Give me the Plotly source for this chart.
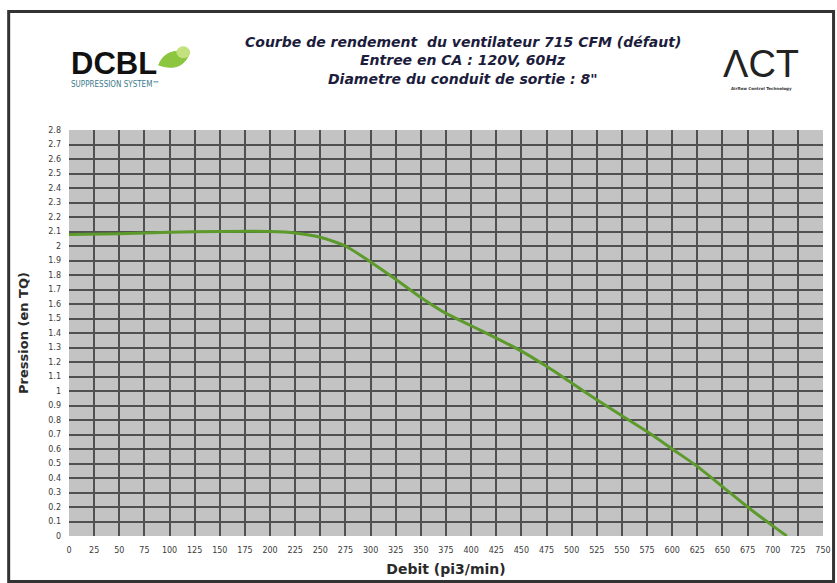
import plotly.graph_objects as go

# Fan performance curve (flow in CFM vs static pressure in inches of water)
debit = [0, 50, 100, 150, 200, 225, 250, 275, 300, 325, 350, 375, 400, 425,
         450, 475, 500, 525, 550, 575, 600, 625, 650, 675, 700, 714]
pression = [2.08, 2.085, 2.095, 2.10, 2.10, 2.09, 2.06, 2.00, 1.89, 1.77,
            1.645, 1.535, 1.45, 1.365, 1.275, 1.17, 1.055, 0.94, 0.83, 0.72,
            0.60, 0.48, 0.34, 0.20, 0.07, 0.0]

x_ticks = list(range(0, 751, 25))
y_ticks = [round(i * 0.1, 1) for i in range(0, 29)]
y_tick_text = [("%g" % v) for v in y_ticks]
ref_line = 2.0

title_lines = [
    "Courbe de rendement  du ventilateur 715 CFM (défaut)",
    "Entree en CA : 120V, 60Hz",
    "Diametre du conduit de sortie : 8\"",
]

fig = go.Figure()

fig.add_trace(go.Scatter(
    x=debit, y=pression, mode="lines",
    line=dict(color="#5b9a2b", width=3, shape="spline", smoothing=0.6),
    hoverinfo="x+y", showlegend=False,
))

grid_col = "#505050"
tick_font = dict(family="DejaVu Sans", size=8, color="#3a3a3a")
fig.update_xaxes(
    range=[0, 750], tickvals=x_ticks, ticktext=[str(v) for v in x_ticks],
    showgrid=True, gridcolor=grid_col, gridwidth=1.5, zeroline=False, automargin=False,
    showline=False, ticks="", tickfont=tick_font, ticklabelstandoff=8,
    title=dict(text="<b>Debit (pi3/min)</b>",
               font=dict(family="DejaVu Sans", size=14, color="#2a2a2a"), standoff=10),
)
fig.update_yaxes(
    range=[0, 2.8], tickvals=y_ticks, ticktext=y_tick_text,
    showgrid=True, gridcolor=grid_col, gridwidth=1.5, zeroline=False, automargin=False,
    showline=False, ticks="", tickfont=tick_font, ticklabelstandoff=7,
    title=dict(text="<b>Pression (en TQ)</b>",
               font=dict(family="DejaVu Sans", size=13, color="#2a2a2a"), standoff=16),
)

shapes = [
    # outer frame
    dict(type="rect", xref="paper", yref="paper", x0=-0.080, x1=1.014, y0=-0.112, y1=1.292,
         line=dict(color="#333", width=3), fillcolor="rgba(0,0,0,0)", layer="below"),
    # lavender reference line
    dict(type="line", xref="paper", yref="y", x0=0, x1=1, y0=ref_line, y1=ref_line,
         line=dict(color="#a898c8", width=2), layer="below"),
]

annotations = []
for i, line in enumerate(title_lines):
    annotations.append(dict(
        text="<b><i>%s</i></b>" % line, xref="paper", yref="paper",
        x=0.522, y=1.217 - i * 0.0455, xanchor="center", yanchor="middle", showarrow=False,
        font=dict(family="DejaVu Sans", size=14, color="#1c1c3c"),
    ))

# left logo text
annotations += [
    dict(text="<b>DCBL</b>", xref="paper", yref="paper", x=0.0, y=1.165,
         xanchor="left", yanchor="middle", showarrow=False,
         font=dict(family="Liberation Sans Narrow, Liberation Sans", size=31, color="#111")),
    dict(text="SUPPRESSION SYSTEM™", xref="paper", yref="paper", x=0.0, y=1.111,
         xanchor="left", yanchor="middle", showarrow=False,
         font=dict(family="DejaVu Sans Condensed, DejaVu Sans", size=8, color="#3a7a8a")),
    # right logo text
    dict(text="ΛCT", xref="paper", yref="paper", x=0.918, y=1.163,
         xanchor="center", yanchor="middle", showarrow=False,
         font=dict(family="Liberation Sans", size=38, color="#222")),
    dict(text="<b>Airflow Control Technology</b>", xref="paper", yref="paper", x=0.918, y=1.103,
         xanchor="center", yanchor="middle", showarrow=False,
         font=dict(family="DejaVu Sans", size=4, color="#333")),
]

# green leaf beside the DCBL text
shapes.append(dict(type="path", xref="paper", yref="paper",
                   path="M 0.119 1.160 Q 0.128 1.205 0.160 1.190 Q 0.150 1.140 0.119 1.160 Z",
                   fillcolor="#8cc63f", line=dict(color="#8cc63f", width=1)))
shapes.append(dict(type="circle", xref="paper", yref="paper",
                   x0=0.143, x1=0.160, y0=1.178, y1=1.205,
                   fillcolor="#c3e27e", line=dict(color="#c3e27e", width=1)))

fig.update_layout(
    width=837, height=583,
    margin=dict(l=69, r=14, t=130, b=47),
    paper_bgcolor="white", plot_bgcolor="#c3c3c3",
    shapes=shapes, annotations=annotations,
    showlegend=False,
)

fig.write_html("out.html")
